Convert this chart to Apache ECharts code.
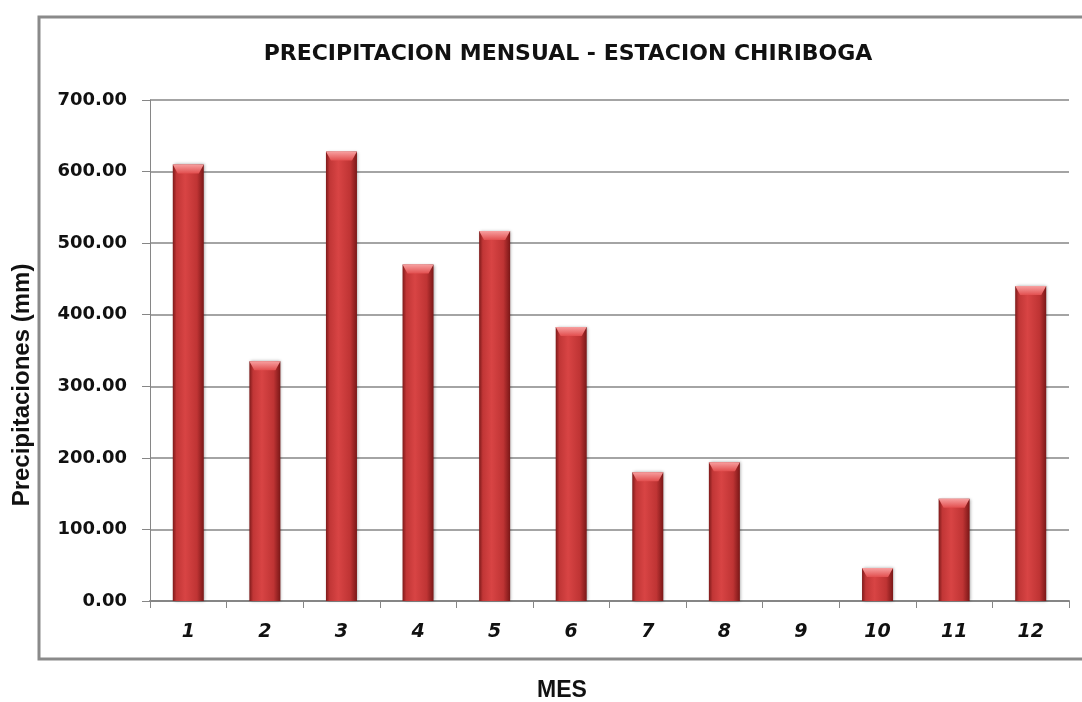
<!DOCTYPE html>
<html>
<head>
<meta charset="utf-8">
<script src="https://cdn.jsdelivr.net/npm/echarts@6/dist/echarts.min.js"></script>
<style>
  html, body { margin: 0; padding: 0; background: #ffffff; }
  #chart { width: 1082px; height: 702px; }
</style>
</head>
<body>
<div id="chart"></div>
<script>
// Monthly precipitation, Chiriboga station (mm)
const months = ['1', '2', '3', '4', '5', '6', '7', '8', '9', '10', '11', '12'];
const precipitation = [610, 335, 628, 470, 517, 383, 180, 194, 0, 46, 143, 440];
const titleText = 'PRECIPITACION MENSUAL - ESTACION CHIRIBOGA';
const yAxisTitle = 'Precipitaciones (mm)';
const xAxisTitle = 'MES';

const gray = '#868686';
const chart = echarts.init(document.getElementById('chart'));

const barFill = new echarts.graphic.LinearGradient(0, 0, 1, 0, [
  { offset: 0, color: '#7e1a1a' },
  { offset: 0.12, color: '#c13636' },
  { offset: 0.4, color: '#d84444' },
  { offset: 0.78, color: '#bf3434' },
  { offset: 1, color: '#7a1717' }
]);
const capFill = new echarts.graphic.LinearGradient(0, 0, 0, 1, [
  { offset: 0, color: '#f7a0a0' },
  { offset: 1, color: '#e24f4f' }
]);

chart.setOption({
  backgroundColor: '#ffffff',
  animation: false,
  graphic: [
    {
      type: 'rect',
      shape: { x: 39, y: 17, width: 1100, height: 642 },
      style: { fill: 'none', stroke: '#8a8a8a', lineWidth: 3 },
      z: -1
    },
    {
      type: 'text',
      x: 568, y: 54,
      style: {
        text: titleText, fill: '#111',
        font: 'bold 22px "DejaVu Sans"',
        textAlign: 'center', textVerticalAlign: 'middle'
      }
    },
    {
      type: 'text',
      x: 22, y: 385,
      rotation: Math.PI / 2,
      style: {
        text: yAxisTitle, fill: '#111',
        font: 'bold 24px "Liberation Sans", Arial',
        textAlign: 'center', textVerticalAlign: 'middle'
      }
    },
    {
      type: 'text',
      x: 562, y: 691,
      style: {
        text: xAxisTitle, fill: '#111',
        font: 'bold 23px "Liberation Sans", Arial',
        textAlign: 'center', textVerticalAlign: 'middle'
      }
    }
  ],
  grid: { left: 150, right: 13, top: 100, bottom: 101 },
  xAxis: {
    type: 'category',
    data: months,
    axisLine: { lineStyle: { color: gray, width: 2 } },
    axisTick: { show: true, length: 7, lineStyle: { color: gray } },
    axisLabel: {
      margin: 22,
      fontFamily: 'DejaVu Sans',
      fontWeight: 'bold',
      fontStyle: 'italic',
      fontSize: 19,
      color: '#111'
    }
  },
  yAxis: {
    type: 'value',
    min: 0, max: 700, interval: 100,
    axisLine: { show: true, lineStyle: { color: gray, width: 1 } },
    axisTick: { show: true, length: 8, lineStyle: { color: gray } },
    splitLine: { lineStyle: { color: gray, width: 1.5 } },
    axisLabel: {
      margin: 23,
      formatter: v => v.toFixed(2),
      fontFamily: 'DejaVu Sans',
      fontWeight: 'bold',
      fontSize: 18,
      color: '#111'
    }
  },
  series: [
    {
      type: 'bar',
      data: precipitation,
      barWidth: 31,
      itemStyle: {
        color: barFill,
        shadowColor: 'rgba(0,0,0,0.35)',
        shadowBlur: 3,
        shadowOffsetX: 1,
        shadowOffsetY: 0
      },
      z: 2
    },
    {
      type: 'pictorialBar',
      data: precipitation.map(v => (v > 0 ? v : '-')),
      symbol: 'path://M0,0 L10,0 L8.4,1 L1.6,1 Z',
      symbolSize: [31, 9],
      symbolPosition: 'end',
      symbolOffset: [0, 0],
      itemStyle: { color: capFill },
      z: 3
    }
  ]
});
</script>
</body>
</html>
